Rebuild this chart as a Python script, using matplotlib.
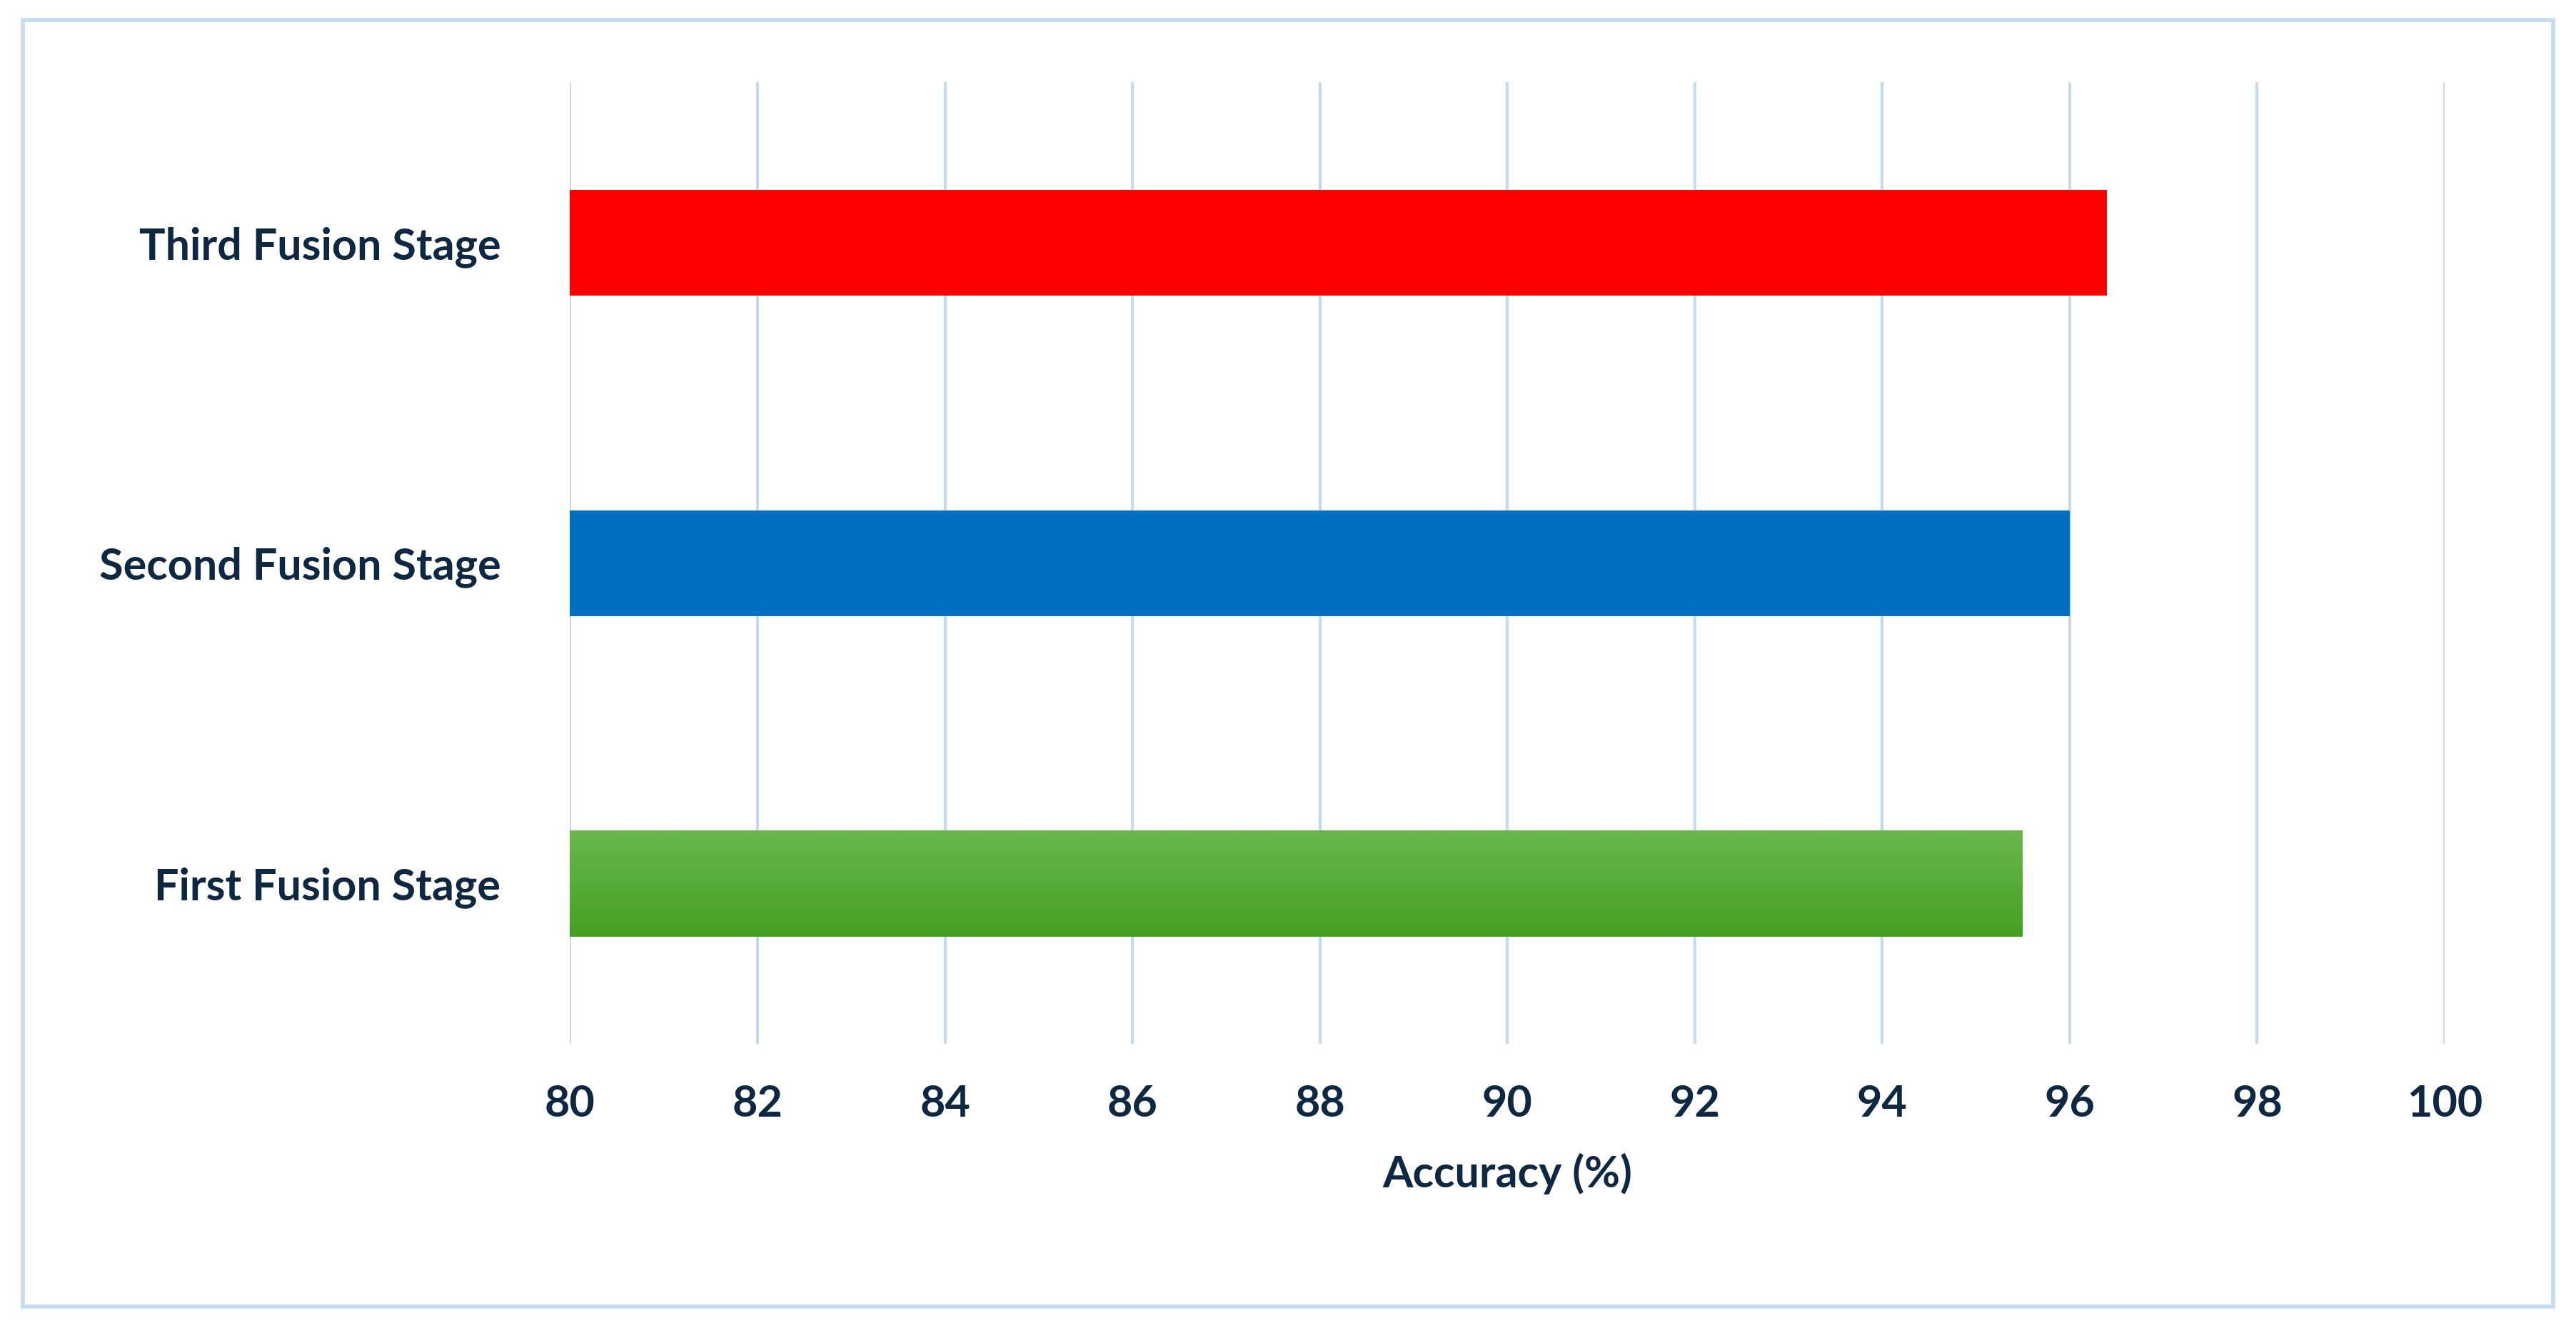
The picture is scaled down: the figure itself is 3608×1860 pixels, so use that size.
import matplotlib
matplotlib.use("Agg")
import matplotlib.pyplot as plt
import numpy as np
from matplotlib.patches import Rectangle

categories = ["First Fusion Stage", "Second Fusion Stage", "Third Fusion Stage"]
values = [95.5, 96.0, 96.4]
colors = ["#4aa832", "#0070c0", "#ff0000"]
xticks = [80, 82, 84, 86, 88, 90, 92, 94, 96, 98, 100]

txt = "#0e2841"
plt.rcParams['font.family'] = ['Lato', 'DejaVu Sans']
fig = fig = plt.figure(figsize=(36.08, 18.6), dpi=100)
ax = fig.add_axes([0.2213, 0.214, 0.949 - 0.2213, 0.938 - 0.214])
y = np.arange(len(categories))
bars = ax.barh(y, [v - 80 for v in values], left=80, height=0.33, color=colors, zorder=3)

# gradient on first bar
b = bars[0]
grad = np.linspace(0, 1, 100).reshape(-1, 1)
from matplotlib.colors import LinearSegmentedColormap
cm = LinearSegmentedColormap.from_list("g", ["#44a020", "#6ab84e"])
im = ax.imshow(grad, cmap=cm, aspect='auto', origin='lower',
               extent=[b.get_x(), b.get_x() + b.get_width(), b.get_y(), b.get_y() + b.get_height()], zorder=4)
im.set_clip_path(b)

ax.set_xlim(80, 100)
ax.set_ylim(-0.5, 2.5)
ax.set_xticks(xticks)
ax.set_xticklabels([str(t) for t in xticks], fontsize=44, fontweight='bold', color=txt)
ax.set_yticks(y)
ax.set_yticklabels(categories, fontsize=44, fontweight='bold', color=txt)
ax.tick_params(length=0, pad=40)
ax.tick_params(axis='y', pad=70)
ax.grid(axis='x', color='#c5dcf0', linewidth=3, zorder=0)
for s in ax.spines.values():
    s.set_visible(False)
ax.set_xlabel("Accuracy (%)", fontsize=44, fontweight='bold', color=txt, labelpad=30)

fig.patches.append(Rectangle((0.009, 0.016), 0.982, 0.969, transform=fig.transFigure,
                             fill=False, edgecolor='#c5dcf0', linewidth=4))
fig.savefig("out.png", dpi=100)
